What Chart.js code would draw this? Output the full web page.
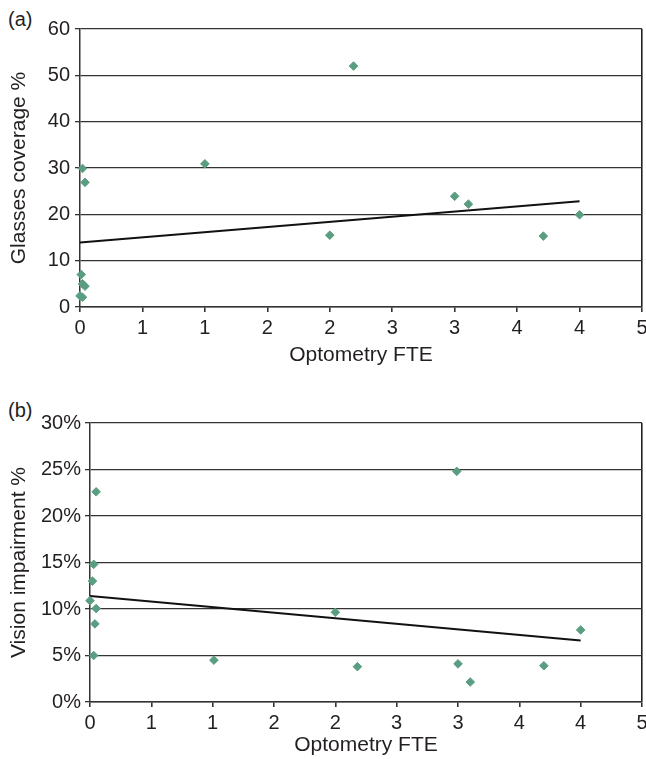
<!DOCTYPE html>
<html>
<head>
<meta charset="utf-8">
<script src="https://cdn.jsdelivr.net/npm/chart.js@4.4.1/dist/chart.umd.min.js"></script>
<style>
  html, body { margin: 0; padding: 0; background: #fff; overflow: hidden; }
  body { width: 646px; height: 759px; position: relative; }
  canvas { position: absolute; left: 0; }
  #chart-a { top: 0; }
  #chart-b { top: 380px; }
  .panel-label {
    position: absolute; left: 8px;
    font: 20px "Liberation Sans", Arial, sans-serif; color: #231f20;
  }
</style>
</head>
<body>
<div class="panel-label" style="top:8px">(a)</div>
<canvas id="chart-a" width="660" height="380"></canvas>
<div class="panel-label" style="top:399px">(b)</div>
<canvas id="chart-b" width="660" height="379"></canvas>
<script>
// x tick labels are the 0.5-step values rounded to whole numbers, as in the source
const xTickLabels = ["0", "1", "1", "2", "2", "3", "3", "4", "4", "5"];

// (a) glasses coverage vs optometry FTE
const fteA = [0.02, 0.04, 1.0, 0.01, 0.02, 0.04, 0.0, 0.02, 2.19, 2.0, 3.0, 3.11, 3.71, 4.0];
const coverageA = [29.9, 26.9, 30.9, 7.0, 5.0, 4.5, 2.4, 2.1, 52.0, 15.5, 23.9, 22.2, 15.3, 19.9];
const trendFteA = [0, 4.0];
const trendCoverageA = [13.9, 22.8];

// (b) vision impairment vs optometry FTE (percent)
const fteB = [0.05, 0.03, 0.02, 0.0, 0.05, 0.04, 0.03, 1.01, 2.99, 2.0, 2.18, 3.0, 3.1, 3.7, 4.0];
const impairmentB = [22.6, 14.8, 13.0, 10.9, 10.05, 8.4, 5.0, 4.5, 24.8, 9.65, 3.8, 4.1, 2.15, 3.9, 7.75];
const trendFteB = [0, 4.0];
const trendImpairmentB = [11.4, 6.6];

const FONT = '"Liberation Sans", Arial, sans-serif';
const TEXT = "#231f20";
const LINE = "#333333";
const MARKER = "#5a9e82";

function zip(xs, ys) {
  return xs.map((x, i) => ({ x: x, y: ys[i] }));
}

function makeChart(id, opts) {
  return new Chart(document.getElementById(id), {
    type: "scatter",
    data: {
      datasets: [
        {
          data: zip(opts.xs, opts.ys),
          pointStyle: "rectRot",
          pointRadius: 4.3,
          pointBorderWidth: 1,
          backgroundColor: MARKER,
          borderColor: MARKER,
          clip: false,
        },
        {
          type: "line",
          data: zip(opts.trendX, opts.trendY),
          borderColor: "#111",
          borderWidth: 2,
          pointRadius: 0,
          fill: false,
        },
      ],
    },
    options: {
      responsive: false,
      animation: false,
      layout: { padding: { top: opts.padTop, right: 18, bottom: 0, left: 0 } },
      plugins: { legend: { display: false }, tooltip: { enabled: false } },
      scales: {
        x: {
          type: "linear",
          min: 0,
          max: 4.5,
          afterFit: (scale) => { scale.height = opts.xHeight; },
          border: { display: true, color: LINE, width: 1.5 },
          grid: {
            drawOnChartArea: true,
            drawTicks: true,
            tickLength: 5,
            lineWidth: 1.6,
            color: (ctx) => (ctx.tick && ctx.tick.value === 4.5 ? "#222" : "rgba(0,0,0,0)"),
            tickColor: LINE,
          },
          ticks: {
            stepSize: 0.5,
            autoSkip: false,
            maxRotation: 0,
            padding: 4,
            color: TEXT,
            font: { family: FONT, size: 20 },
            callback: (value, index) => xTickLabels[index],
          },
          title: {
            display: true,
            text: "Optometry FTE",
            color: TEXT,
            font: { family: FONT, size: 21 },
            padding: { top: 0, bottom: opts.xTitlePad },
          },
        },
        y: {
          min: 0,
          max: opts.yMax,
          afterFit: (scale) => { scale.width = opts.yWidth; },
          border: { display: true, color: LINE, width: 1.5 },
          grid: { color: LINE, lineWidth: 1.3, tickLength: 5, tickColor: LINE },
          ticks: {
            stepSize: opts.yStep,
            padding: opts.yPad,
            color: TEXT,
            font: { family: FONT, size: 20 },
            callback: opts.yFormat,
          },
          title: {
            display: true,
            text: opts.yTitle,
            color: TEXT,
            font: { family: FONT, size: 21 },
            padding: { top: 7, bottom: 0 },
          },
        },
      },
    },
  });
}

makeChart("chart-a", {
  xs: fteA, ys: coverageA, trendX: trendFteA, trendY: trendCoverageA,
  padTop: 29, xHeight: 73, xTitlePad: 12, yWidth: 80, yPad: 5,
  yMax: 60, yStep: 10, yTitle: "Glasses coverage %",
  yFormat: (v) => String(v),
});

makeChart("chart-b", {
  xs: fteB, ys: impairmentB, trendX: trendFteB, trendY: trendImpairmentB,
  padTop: 43, xHeight: 57, xTitlePad: 1, yWidth: 90, yPad: 4,
  yMax: 30, yStep: 5, yTitle: "Vision impairment %",
  yFormat: (v) => v + "%",
});
</script>
</body>
</html>
